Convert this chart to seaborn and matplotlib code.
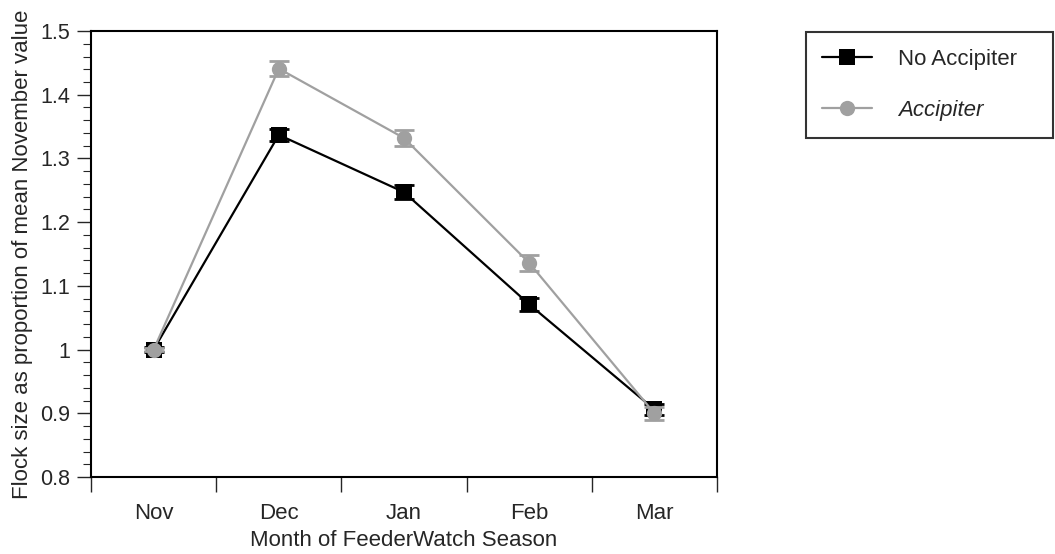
import numpy as np
import pandas as pd
import matplotlib
matplotlib.use("Agg")
import matplotlib.pyplot as plt
import seaborn as sns
from matplotlib.ticker import MultipleLocator, FixedLocator, FuncFormatter

months = ["Nov", "Dec", "Jan", "Feb", "Mar"]
no_accipiter = [1.000, 1.337, 1.247, 1.071, 0.906]
no_accipiter_err = [0.004, 0.010, 0.011, 0.010, 0.009]
accipiter = [1.000, 1.441, 1.332, 1.136, 0.900]
accipiter_err = [0.003, 0.012, 0.012, 0.012, 0.010]
groups = ["No Accipiter", "Accipiter"]
colors = {"No Accipiter": "#000000", "Accipiter": "#a0a0a0"}
markers = {"No Accipiter": "s", "Accipiter": "o"}

df = pd.DataFrame({
    "pos": list(range(len(months))) * 2,
    "month": months * 2,
    "value": no_accipiter + accipiter,
    "err": no_accipiter_err + accipiter_err,
    "group": [groups[0]] * len(months) + [groups[1]] * len(months),
})

sns.set_style("ticks")
plt.rcParams["font.family"] = ["Liberation Sans", "DejaVu Sans"]

fig = plt.figure(figsize=(10.55, 5.54), dpi=100)
ax = fig.add_axes([0.0863, 0.139, 0.5933, 0.805])

for g in groups:
    sub = df[df["group"] == g]
    ax.errorbar(sub["pos"], sub["value"], yerr=sub["err"], fmt="none",
                ecolor=colors[g], elinewidth=1.6, capsize=7, capthick=2.0,
                zorder=3 if g == groups[0] else 5)

sns.lineplot(data=df, x="pos", y="value", hue="group", style="group",
             hue_order=groups, style_order=groups, palette=colors,
             markers=markers, dashes=False, markersize=11, linewidth=1.6,
             markeredgewidth=0, ax=ax, legend=True, zorder=4)

ax.set_xlim(-0.5, len(months) - 0.5)
ax.set_ylim(0.8, 1.5)
ax.xaxis.set_major_locator(FixedLocator(np.arange(-0.5, len(months), 1.0)))
ax.xaxis.set_major_formatter(FuncFormatter(lambda v, p: ""))
ax.xaxis.set_minor_locator(FixedLocator(np.arange(len(months))))
ax.set_xticklabels(months, minor=True)
ax.tick_params(axis="x", which="major", length=11, width=1.0, direction="out")
ax.tick_params(axis="x", which="minor", length=0, labelsize=16, pad=19)

ax.yaxis.set_major_locator(MultipleLocator(0.1))
ax.yaxis.set_minor_locator(MultipleLocator(0.02))
ax.yaxis.set_major_formatter(FuncFormatter(lambda v, p: f"{v:g}"))
ax.tick_params(axis="y", which="major", length=10, width=1.0, labelsize=15.5, pad=5)
ax.tick_params(axis="y", which="minor", length=6, width=0.8)

for s in ax.spines.values():
    s.set_visible(True)
    s.set_linewidth(1.5)
    s.set_color("black")

ax.set_xlabel("Month of FeederWatch Season", fontsize=16, labelpad=4)
ax.set_ylabel("Flock size as proportion of mean November value", fontsize=16, labelpad=5)

handles, labels = ax.get_legend_handles_labels()
ax.get_legend().remove()
leg = fig.legend(handles, labels, loc="upper left",
                 bbox_to_anchor=(0.764, 0.756, 0.234, 0.186), mode="expand",
                 frameon=True, fancybox=False, fontsize=16, handlelength=2.25,
                 handletextpad=1.17, labelspacing=1.38, borderpad=0.74,
                 borderaxespad=0)
leg.get_frame().set_edgecolor("black")
leg.get_frame().set_linewidth(1.5)
for t in leg.get_texts():
    if t.get_text() == "Accipiter":
        t.set_fontstyle("italic")

fig.savefig("out.png", dpi=100)
